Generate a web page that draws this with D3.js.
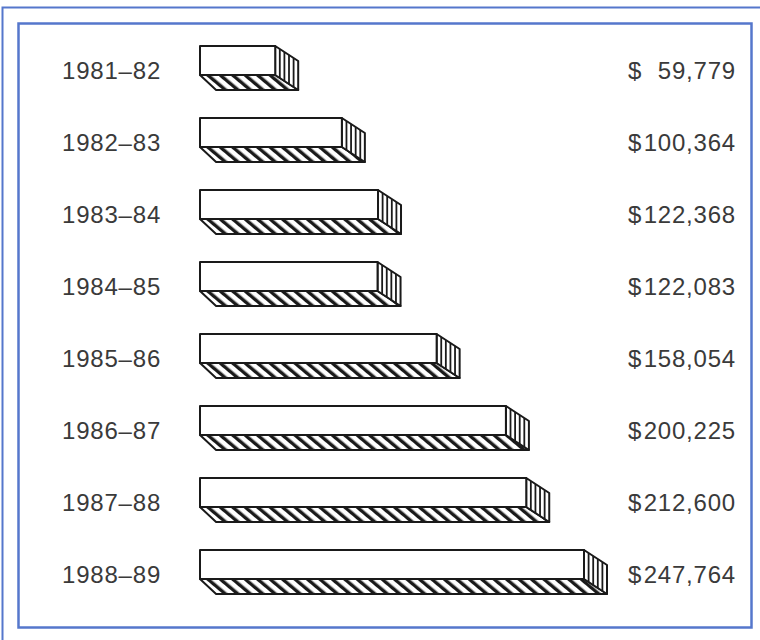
<!DOCTYPE html>
<html lang="en">
<head>
    <meta charset="UTF-8">
    <title>Annual totals 1981-89</title>
    <script src="https://d3js.org/d3.v7.min.js"></script>
    <style>
        body {
            margin: 0;
            background: #fff;
        }
        .label {
            font-family: "Liberation Sans", Arial, sans-serif;
            font-size: 24px;
            fill: #3a3a3a;
            letter-spacing: 0.8px;
        }
        .face {
            stroke: #1a1a1a;
            stroke-width: 2;
            stroke-linejoin: round;
        }
        .border {
            fill: none;
            stroke: #5577cc;
        }
    </style>
</head>
<body>
    <svg id="chart" width="760" height="640"></svg>
    <script>
        const years = ["1981–82", "1982–83", "1983–84", "1984–85", "1985–86", "1986–87", "1987–88", "1988–89"];
        const amounts = [59779, 100364, 122368, 122083, 158054, 200225, 212600, 247764];

        const svg = d3.select("#chart");

        // blue frames
        svg.append("rect").attr("class", "border")
            .attr("x", 2.5).attr("y", 7.5).attr("width", 800).attr("height", 700)
            .attr("stroke-width", 2);
        svg.append("rect").attr("class", "border")
            .attr("x", 18.5).attr("y", 23.5).attr("width", 733).attr("height", 604)
            .attr("stroke-width", 2.5);

        // hatch for the bottom face
        const defs = svg.append("defs");
        defs.append("pattern")
            .attr("id", "hatch")
            .attr("patternUnits", "userSpaceOnUse")
            .attr("width", 8).attr("height", 8)
            .attr("patternTransform", "rotate(-50)")
            .append("rect")
            .attr("x", 0).attr("y", 0).attr("width", 3.4).attr("height", 8)
            .attr("fill", "#1a1a1a");

        const y = d3.scalePoint().domain(years).range([70, 574]);
        const x = d3.scaleLinear().domain([0, d3.max(amounts)]).range([200, 607]);

        const depthX = 23, depthY = 15, frontH = 29, frontTop = -24;

        const rows = svg.selectAll(".row")
            .data(years.map((yr, i) => ({ yr, v: amounts[i] })))
            .join("g")
            .attr("class", "row")
            .attr("transform", d => `translate(0,${y(d.yr)})`);

        rows.each(function (d) {
            const g = d3.select(this);
            const x0 = x(0), x1 = x(d.v) - depthX;
            const y0 = frontTop, y1 = frontTop + frontH;
            const bottomPath = `M${x0},${y1} L${x1},${y1} L${x1 + depthX},${y1 + depthY} L${x0 + depthX * 0.7},${y1 + depthY} Z`;

            // bottom face
            g.append("path")
                .attr("fill", "url(#hatch)")
                .attr("d", bottomPath);
            g.append("path").attr("class", "face")
                .attr("fill", "none")
                .attr("d", bottomPath);

            // right face with vertical stripes
            g.append("path").attr("class", "face")
                .attr("fill", "#fff")
                .attr("d", `M${x1},${y0} L${x1 + depthX},${y0 + depthY} L${x1 + depthX},${y1 + depthY} L${x1},${y1} Z`);
            d3.range(1, 5).forEach(k => {
                const sx = x1 + depthX * k / 5;
                g.append("line")
                    .attr("x1", sx).attr("x2", sx)
                    .attr("y1", y0 + depthY * k / 5).attr("y2", y1 + depthY * k / 5)
                    .attr("stroke", "#1a1a1a").attr("stroke-width", 1.8);
            });

            // front face
            g.append("rect").attr("class", "face")
                .attr("fill", "#fff")
                .attr("x", x0).attr("y", y0)
                .attr("width", x1 - x0).attr("height", frontH);
        });

        rows.append("text").attr("class", "label")
            .attr("x", 62).attr("dy", "0.36em")
            .text(d => d.yr);

        rows.append("text").attr("class", "label")
            .attr("x", 628).attr("dy", "0.36em")
            .text("$");

        rows.append("text").attr("class", "label")
            .attr("x", 736).attr("dy", "0.36em")
            .attr("text-anchor", "end")
            .text(d => d3.format(",")(d.v));
    </script>
</body>
</html>
